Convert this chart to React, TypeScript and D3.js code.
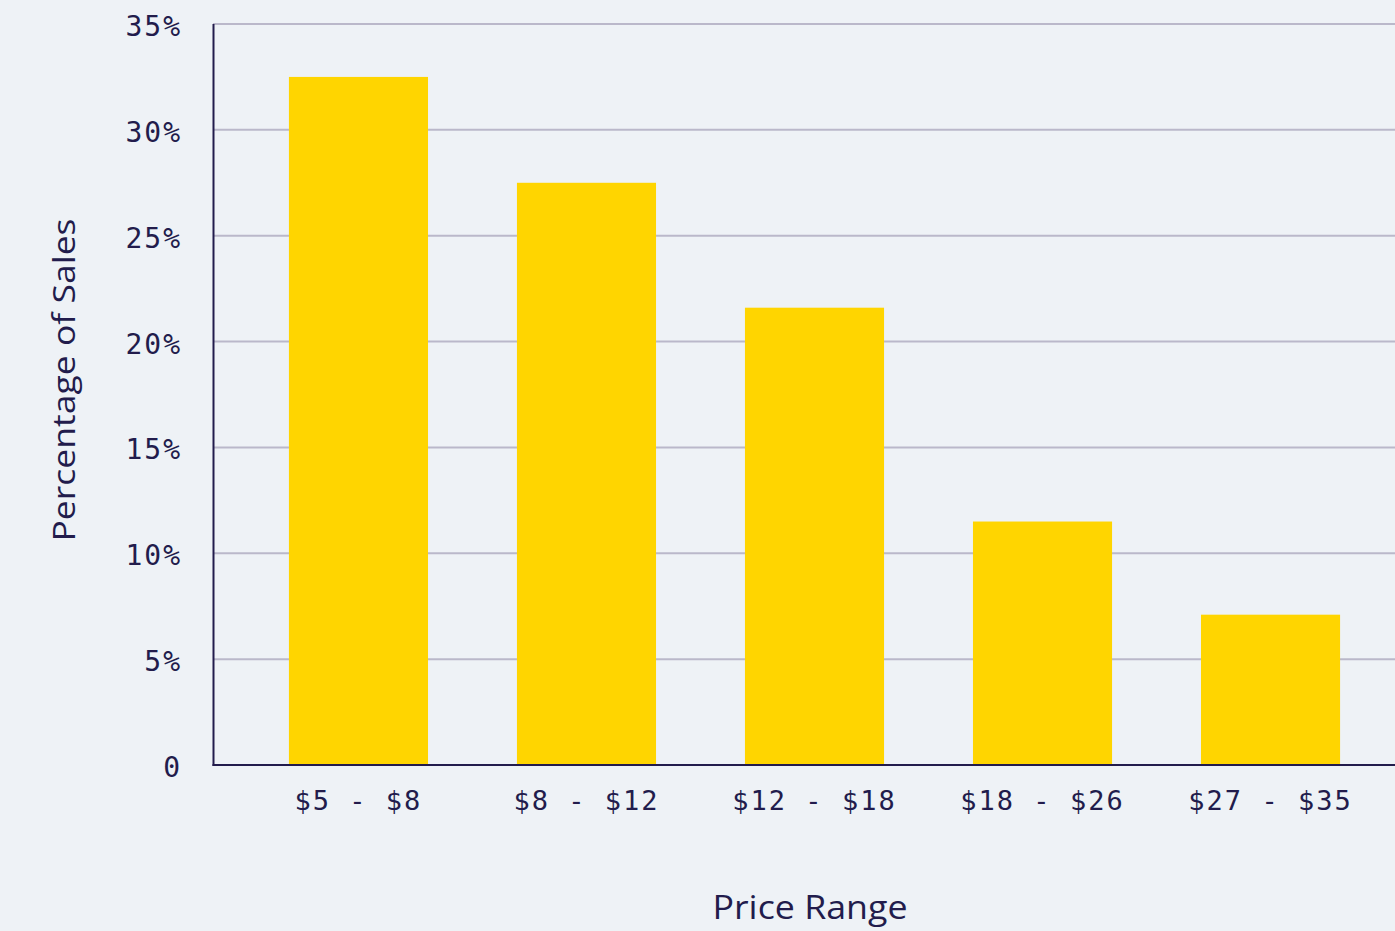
import React from "react";
import * as d3 from "d3";

const categories = ["$5 - $8", "$8 - $12", "$12 - $18", "$18 - $26", "$27 - $35"];
const values = [32.5, 27.5, 21.6, 11.5, 7.1];
const yTicks = [0, 5, 10, 15, 20, 25, 30, 35];

const W = 1395;
const H = 931;
const BG = "#eef2f6";
const TEXT = "#221c4c";
const GRID = "#bab8ca";
const BAR = "#ffd500";

export default function App() {
  const x = d3
    .scaleBand<string>()
    .domain(categories)
    .range([213, 1416])
    .paddingInner(0.39)
    .paddingOuter(0.333);
  const y = d3.scaleLinear().domain([0, 35]).range([765, 24]);
  const mono = "'DejaVu Sans Mono', monospace";
  const sans = "'Open Sans', 'Noto Sans', sans-serif";

  return (
    <svg
      width={W}
      height={H}
      style={{ position: "absolute", left: 0, top: 0, display: "block" }}
    >
      <rect x={0} y={0} width={W} height={H} fill={BG} />
      {yTicks.map((t) =>
        t === 0 ? null : (
          <line key={"g" + t} x1={213} x2={W} y1={y(t)} y2={y(t)} stroke={GRID} strokeWidth={2} />
        )
      )}
      {categories.map((c, i) => (
        <rect
          key={c}
          x={x(c)}
          y={y(values[i])}
          width={x.bandwidth()}
          height={y(0) - y(values[i])}
          fill={BAR}
        />
      ))}
      <line x1={213.5} x2={213.5} y1={y(35)} y2={y(0) + 1} stroke={TEXT} strokeWidth={2} />
      <line x1={212.5} x2={W} y1={y(0)} y2={y(0)} stroke={TEXT} strokeWidth={2} />
      {yTicks.map((t) => (
        <text
          key={"t" + t}
          x={182}
          y={y(t) + 4}
          textAnchor="end"
          dominantBaseline="middle"
          fontFamily={mono}
          fontSize={28}
          letterSpacing={2}
          fill={TEXT}
        >
          {t === 0 ? "0" : `${t}%`}
        </text>
      ))}
      {categories.map((c) => (
        <text
          key={"x" + c}
          x={(x(c) as number) + x.bandwidth() / 2}
          y={810}
          textAnchor="middle"
          fontFamily={mono}
          fontSize={27}
          letterSpacing={2}
          fill={TEXT}
        >
          {c}
        </text>
      ))}
      <text
        transform={`translate(75, 380) rotate(-90)`}
        textAnchor="middle"
        fontFamily={sans}
        fontSize={31}
        textLength={323}
        lengthAdjust="spacingAndGlyphs"
        fill={TEXT}
      >
        Percentage of Sales
      </text>
      <text
        x={810}
        y={919}
        textAnchor="middle"
        fontFamily={sans}
        fontSize={32}
        textLength={195}
        lengthAdjust="spacingAndGlyphs"
        fill={TEXT}
      >
        Price Range
      </text>
    </svg>
  );
}
